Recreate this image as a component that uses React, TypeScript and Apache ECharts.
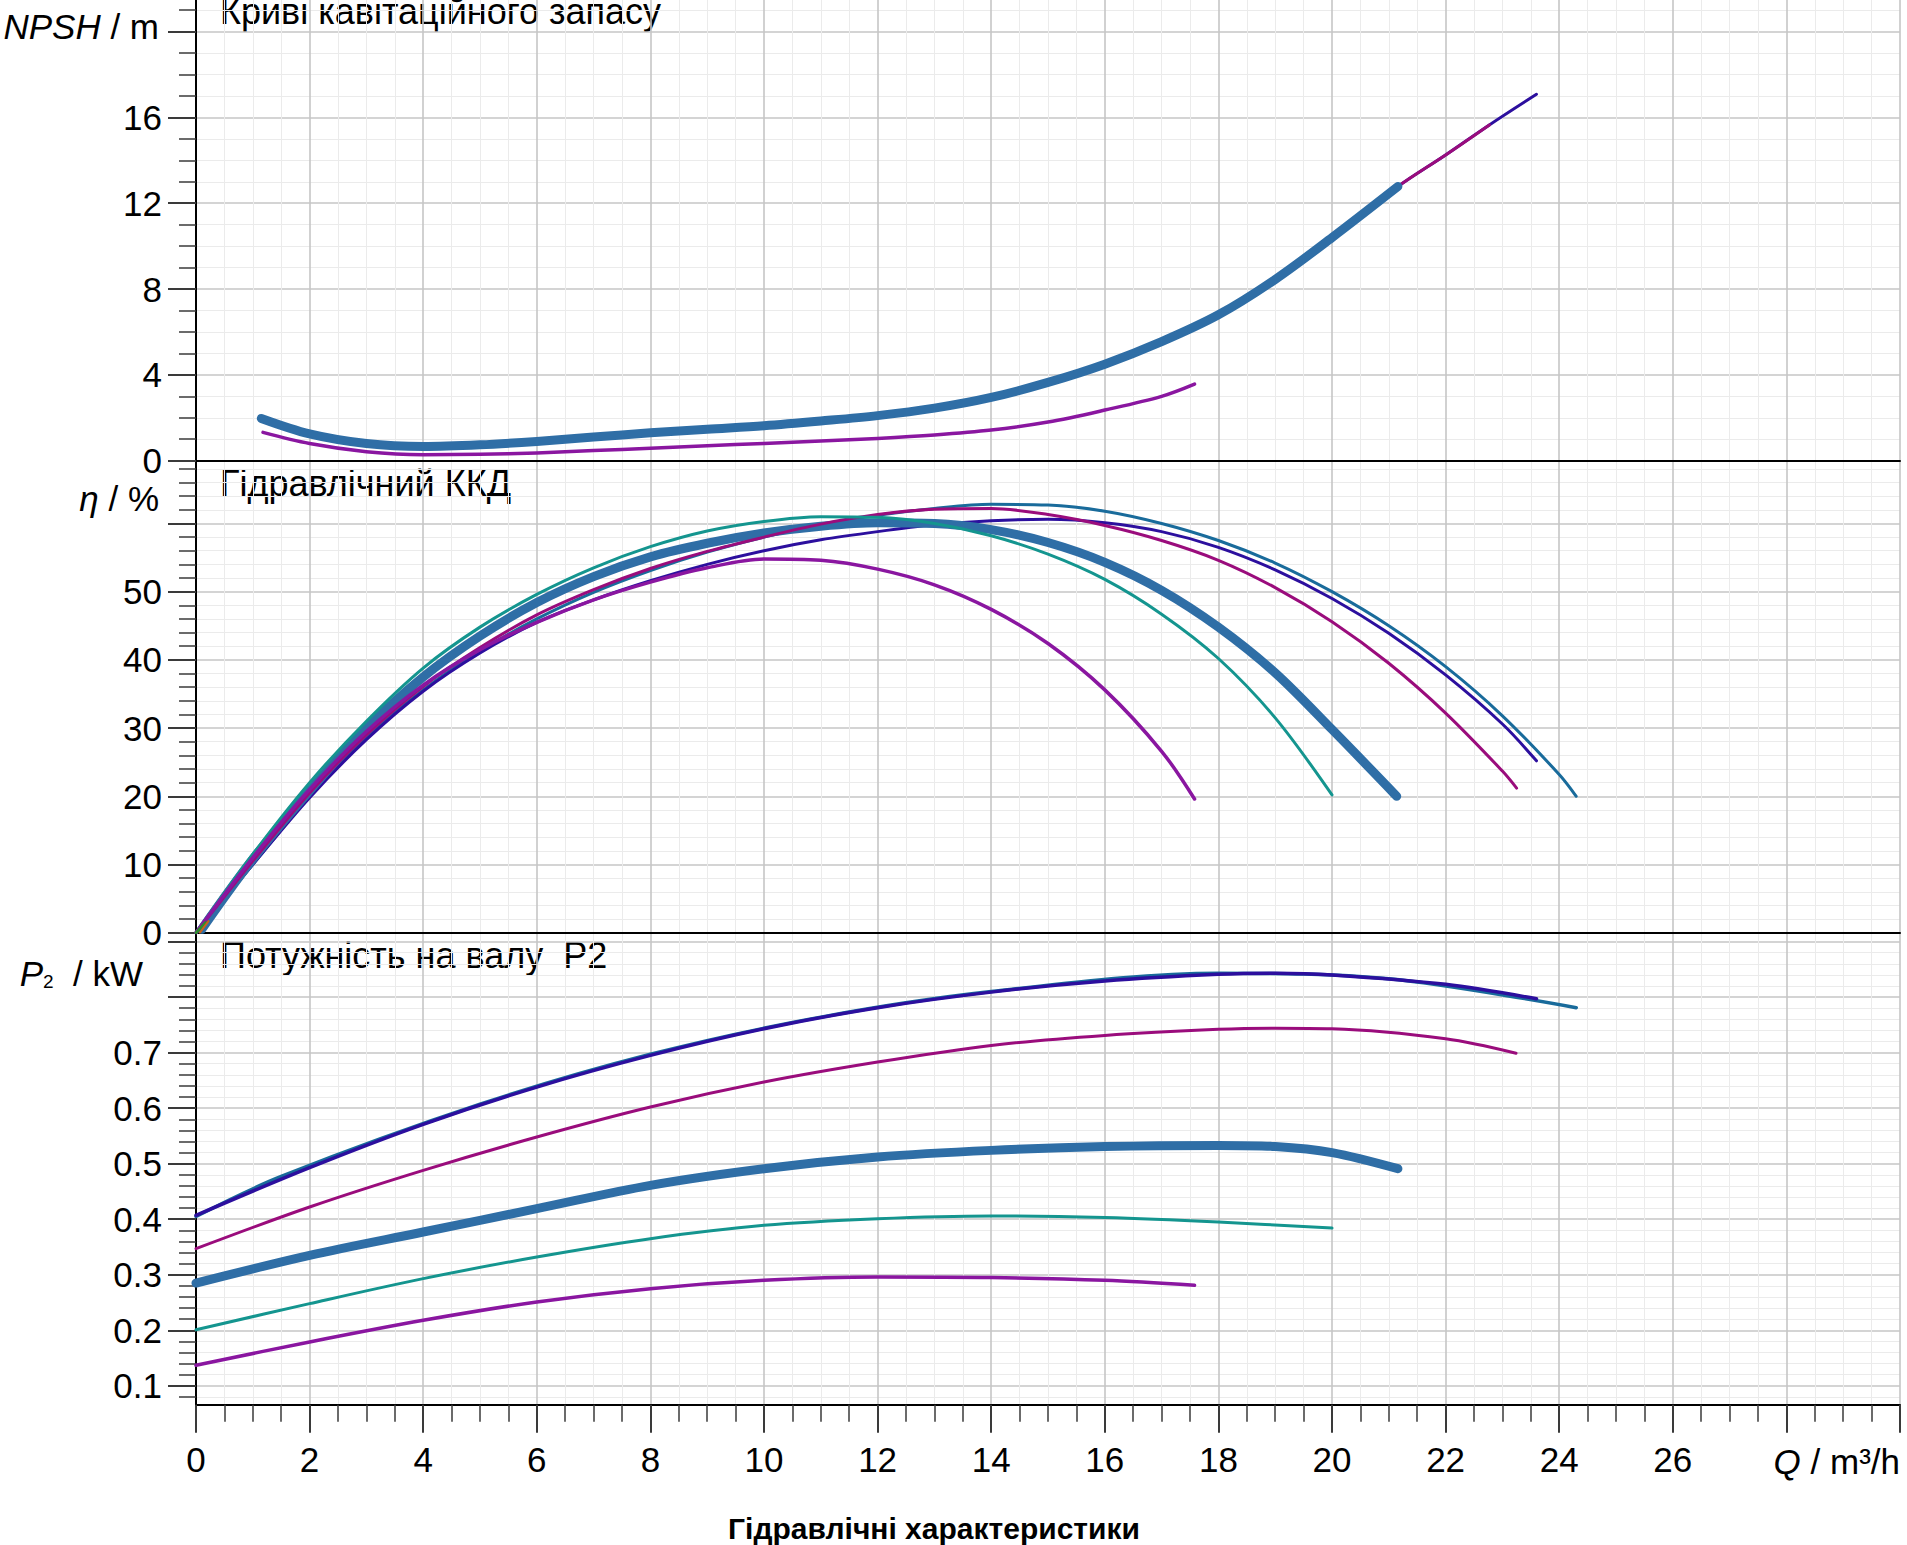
import React, { useEffect, useRef } from "react";
import * as echarts from "echarts";

const FONT = "'Liberation Sans', Arial, Helvetica, sans-serif";

// ---------- axes ----------
const Q_RANGE = [0, 30];
const NPSH_RANGE = [0, 22];
const ETA_RANGE = [0, 69.2];
const P2_RANGE = [0.066, 0.916];
const Q_HIDDEN_LABELS = [28, 30];
const NPSH_HIDDEN_LABELS = [20, 22];
const ETA_HIDDEN_LABELS = [60, 69.2];
const P2_TICKS = [0.1, 0.2, 0.3, 0.4, 0.5, 0.6, 0.7, 0.8, 0.9];
const P2_LABELS = [0.1, 0.2, 0.3, 0.4, 0.5, 0.6, 0.7];

// ---------- colours ----------
const C_THICK = "#2f6ea6";
const C_PURPLE = "#8a16a0";
const C_TEAL = "#14958f";
const C_MAGENTA = "#9a0c7c";
const C_INDIGO = "#2c0f9e";
const C_BLUE = "#196b9b";
const C_GREEN = "#2e8b2e";
const C_ORANGE = "#c8641c";

// ---------- NPSH ----------
const npshThickQ = [1.15, 2, 3, 4, 5, 6, 7, 8, 9, 10, 11, 12, 13, 14, 15, 16, 17, 18, 19, 20, 21.16];
const npshThick = [1.97, 1.25, 0.8, 0.66, 0.74, 0.9, 1.1, 1.3, 1.47, 1.63, 1.85, 2.1, 2.45, 2.95, 3.65, 4.5, 5.55, 6.8, 8.45, 10.4, 12.78];
const npshPurpleQ = [1.18, 2, 3, 4, 5, 6, 7, 8, 9, 10, 11, 12, 13, 14, 15, 16, 17, 17.58];
const npshPurple = [1.32, 0.8, 0.42, 0.28, 0.3, 0.36, 0.47, 0.58, 0.7, 0.8, 0.92, 1.04, 1.2, 1.43, 1.8, 2.36, 3.0, 3.57];
const npshMagentaQ = [19, 20, 21.16, 22, 22.77];
const npshMagenta = [8.45, 10.4, 12.78, 14.25, 15.65];
const npshIndigoQ = [20, 21.16, 22, 22.77, 23.6];
const npshIndigo = [10.4, 12.78, 14.25, 15.65, 17.08];

// ---------- hydraulic efficiency ----------
const etaPurpleQ = [0, 1, 2, 3, 4, 5, 6, 7, 8, 9, 10, 11, 12, 13, 14, 15, 16, 17, 17.58];
const etaPurple = [0, 11, 21, 29.5, 36.3, 41.5, 45.5, 48.8, 51.4, 53.5, 54.8, 54.6, 53.3, 51, 47.4, 42.4, 35.6, 26.6, 19.6];
const etaTealQ = [0, 1, 2, 3, 4, 5, 6, 7, 8, 9, 10, 11, 12, 13, 14, 15, 16, 17, 18, 19, 20];
const etaTeal = [0, 11.5, 22, 31, 38.8, 44.8, 49.6, 53.5, 56.6, 58.9, 60.3, 61, 60.9, 60, 58.2, 55.5, 51.8, 46.7, 40.2, 31.5, 20.2];
const etaThickQ = [0.1, 1, 2, 3, 4, 5, 6, 7, 8, 9, 10, 11, 12, 13, 14, 15, 16, 17, 18, 19, 20, 21.14];
const etaThick = [0.5, 10.8, 20.8, 30, 37.5, 43.5, 48.4, 52.2, 55.1, 57.1, 58.6, 59.6, 60.1, 60, 59.1, 57.2, 54.3, 50.2, 44.8, 38.1, 29.8, 20];
const etaMagentaQ = [0, 1, 2, 3, 4, 5, 6, 7, 8, 9, 10, 11, 12, 13, 14, 15, 16, 17, 18, 19, 20, 21, 22, 23, 23.25];
const etaMagenta = [0, 10.5, 20.5, 29, 36.1, 41.8, 46.6, 50.3, 53.4, 55.9, 58, 59.9, 61.3, 62.1, 62.2, 61.3, 59.7, 57.5, 54.6, 50.6, 45.6, 39.5, 32.2, 23.7, 21.2];
const etaIndigoQ = [0, 1, 2, 3, 4, 5, 6, 7, 8, 9, 10, 11, 12, 13, 14, 15, 16, 17, 18, 19, 20, 21, 22, 23, 23.6];
const etaIndigo = [0, 10, 19.8, 28.3, 35.4, 41, 45.5, 48.8, 51.6, 54, 56, 57.6, 58.8, 59.8, 60.4, 60.6, 60.1, 58.8, 56.5, 53.2, 49, 43.9, 37.8, 30.6, 25.2];
const etaBlueQ = [0, 1, 2, 3, 4, 5, 6, 7, 8, 9, 10, 11, 12, 13, 14, 15, 16, 17, 18, 19, 20, 21, 22, 23, 24, 24.3];
const etaBlue = [0, 10, 20, 28.6, 35.6, 41.3, 46, 49.9, 53.1, 55.8, 58, 59.8, 61.2, 62.2, 62.8, 62.7, 61.8, 60, 57.5, 54.2, 50, 45, 39, 31.8, 23.2, 20];
const etaGreenQ = [0, 0.17];
const etaGreen = [0, 1.5];
const etaOrangeQ = [0.07, 0.22];
const etaOrange = [0, 1.7];

// ---------- shaft power P2 ----------
const p2PurpleQ = [0, 2, 4, 6, 8, 10, 12, 14, 16, 17.58];
const p2Purple = [0.137, 0.179, 0.218, 0.251, 0.275, 0.29, 0.296, 0.295, 0.29, 0.281];
const p2TealQ = [0, 2, 4, 6, 8, 10, 12, 14, 16, 18, 20];
const p2Teal = [0.201, 0.248, 0.293, 0.332, 0.365, 0.389, 0.401, 0.406, 0.403, 0.395, 0.384];
const p2ThickQ = [0, 2, 4, 6, 8, 10, 12, 14, 16, 18, 19, 20, 21.16];
const p2Thick = [0.285, 0.335, 0.377, 0.419, 0.461, 0.491, 0.512, 0.524, 0.531, 0.533, 0.531, 0.52, 0.491];
const p2MagentaQ = [0, 2, 4, 6, 8, 10, 12, 14, 16, 18, 19, 20, 22, 23.24];
const p2Magenta = [0.347, 0.422, 0.488, 0.548, 0.602, 0.647, 0.683, 0.713, 0.731, 0.742, 0.744, 0.743, 0.725, 0.699];
const p2BlueQ = [0, 1.5, 5, 8, 11, 14, 18, 21, 24.3];
const p2Blue = [0.405, 0.477, 0.607, 0.697, 0.764, 0.81, 0.843, 0.833, 0.781];
const p2IndigoQ = [0, 2, 4, 6, 8, 10, 12, 14, 16, 18, 19, 20, 22, 23.6];
const p2Indigo = [0.407, 0.493, 0.571, 0.638, 0.695, 0.743, 0.781, 0.809, 0.829, 0.841, 0.843, 0.84, 0.823, 0.797];

// ---------- texts ----------
const TITLE_NPSH = "Криві кавітаційного запасу";
const TITLE_ETA = "Гідравлічний ККД";
const TITLE_P2 = "Потужність на валу  P2";
const TITLE_BOTTOM = "Гідравлічні характеристики";

// ---------- layout (pixels) ----------
const W = 1907;
const H = 1545;
const LEFT = 196;
const RIGHT = 7;
const PANEL_H = 472;
const TOP0 = -11.3;

const pairs = (q: number[], v: number[]) => q.map((x, i) => [x, v[i]]);

function line(name: string, q: number[], v: number[], color: string, width: number, axis: number, z: number) {
  return {
    name,
    type: "line",
    xAxisIndex: axis,
    yAxisIndex: axis,
    data: pairs(q, v),
    smooth: 0.33,
    showSymbol: false,
    symbol: "none",
    z,
    lineStyle: { color, width, cap: "round", join: "round" },
    emphasis: { disabled: true },
  };
}

const tickStyle = { color: "#3a3a3a", width: 2 };
const minorTickStyle = { color: "#3a3a3a", width: 1.5 };
const majorGrid = { color: "#c6c6c6", width: 1.6 };
const minorGrid = { color: "#ebebeb", width: 1 };
const axisLineStyle = { color: "#000", width: 2 };

function xAxis(index: number, withLabels: boolean) {
  return {
    type: "value",
    gridIndex: index,
    min: Q_RANGE[0],
    max: Q_RANGE[1],
    interval: 2,
    axisLine: { show: true, onZero: false, lineStyle: axisLineStyle },
    axisTick: { show: withLabels, length: 28, lineStyle: tickStyle },
    minorTick: { show: withLabels, splitNumber: 4, length: 17, lineStyle: minorTickStyle },
    splitLine: { show: true, lineStyle: majorGrid },
    minorSplitLine: { show: true, lineStyle: minorGrid },
    axisLabel: {
      show: withLabels,
      margin: 37,
      fontSize: 35,
      fontFamily: FONT,
      color: "#000",
      formatter: (v: number) => (Q_HIDDEN_LABELS.includes(v) ? "" : String(v)),
    },
  };
}

const yLabelBase = { margin: 34, fontSize: 35, fontFamily: FONT, color: "#000" };

function titleText(text: string, y: number) {
  return {
    type: "text",
    x: 220,
    y,
    style: { text, fontSize: 36, fontFamily: FONT, fill: "#000", verticalAlign: "middle" },
  };
}

function unitText(text: string, x: number, y: number, rich: any) {
  return {
    type: "text",
    x,
    y,
    style: {
      text,
      rich,
      fontSize: 35,
      fontFamily: FONT,
      fill: "#000",
      align: "right",
      verticalAlign: "middle",
    },
  };
}

const italicRich = { i: { fontStyle: "italic", fontSize: 35, fontFamily: FONT, fill: "#000" } };

export default function App() {
  const ref = useRef<HTMLDivElement>(null);

  useEffect(() => {
    if (!ref.current) return;
    const chart = echarts.init(ref.current, undefined, { renderer: "svg", width: W, height: H });

    const grids = [0, 1, 2].map((i) => ({
      left: LEFT,
      right: RIGHT,
      top: TOP0 + PANEL_H * i,
      height: PANEL_H,
      containLabel: false,
      outerBoundsMode: "none",
      show: false,
    }));

    const yCommon = {
      type: "value",
      axisLine: { show: true, onZero: false, lineStyle: axisLineStyle },
      axisTick: { show: true, length: 28, lineStyle: tickStyle },
      splitLine: { show: true, lineStyle: majorGrid },
      minorSplitLine: { show: true, lineStyle: minorGrid },
    };

    const option: any = {
      animation: false,
      backgroundColor: "#fff",
      grid: grids,
      xAxis: [xAxis(0, false), xAxis(1, false), xAxis(2, true)],
      yAxis: [
        {
          ...yCommon,
          gridIndex: 0,
          min: NPSH_RANGE[0],
          max: NPSH_RANGE[1],
          interval: 4,
          minorTick: { show: true, splitNumber: 4, length: 17, lineStyle: minorTickStyle },
          axisLabel: {
            ...yLabelBase,
            formatter: (v: number) => (NPSH_HIDDEN_LABELS.includes(v) ? "" : String(v)),
          },
        },
        {
          ...yCommon,
          gridIndex: 1,
          min: ETA_RANGE[0],
          max: ETA_RANGE[1],
          interval: 10,
          minorTick: { show: true, splitNumber: 5, length: 17, lineStyle: minorTickStyle },
          axisLabel: {
            ...yLabelBase,
            formatter: (v: number) => (ETA_HIDDEN_LABELS.includes(v) ? "" : String(v)),
          },
        },
        {
          ...yCommon,
          gridIndex: 2,
          min: P2_RANGE[0],
          max: P2_RANGE[1],
          minInterval: 0.1,
          maxInterval: 0.1,
          axisTick: { show: true, length: 28, lineStyle: tickStyle, customValues: P2_TICKS },
          minorTick: { show: true, splitNumber: 5, length: 17, lineStyle: minorTickStyle },
          axisLabel: {
            ...yLabelBase,
            customValues: P2_LABELS,
            formatter: (v: number) => (P2_LABELS.some((p) => Math.abs(p - v) < 1e-6) ? v.toFixed(1) : ""),
          },
        },
      ],
      series: [
        // NPSH
        line("npsh-indigo", npshIndigoQ, npshIndigo, C_INDIGO, 3, 0, 2),
        line("npsh-magenta", npshMagentaQ, npshMagenta, C_MAGENTA, 3, 0, 3),
        line("npsh-purple", npshPurpleQ, npshPurple, C_PURPLE, 3.5, 0, 4),
        line("npsh-thick", npshThickQ, npshThick, C_THICK, 9, 0, 5),
        // efficiency
        line("eta-blue", etaBlueQ, etaBlue, C_BLUE, 3, 1, 2),
        line("eta-indigo", etaIndigoQ, etaIndigo, C_INDIGO, 3, 1, 3),
        line("eta-thick", etaThickQ, etaThick, C_THICK, 9, 1, 4),
        line("eta-magenta", etaMagentaQ, etaMagenta, C_MAGENTA, 3, 1, 5),
        line("eta-teal", etaTealQ, etaTeal, C_TEAL, 3, 1, 6),
        line("eta-purple", etaPurpleQ, etaPurple, C_PURPLE, 3.5, 1, 7),
        line("eta-green", etaGreenQ, etaGreen, C_GREEN, 3, 1, 8),
        line("eta-orange", etaOrangeQ, etaOrange, C_ORANGE, 2, 1, 8),
        // P2
        line("p2-blue", p2BlueQ, p2Blue, C_BLUE, 3.5, 2, 2),
        line("p2-indigo", p2IndigoQ, p2Indigo, C_INDIGO, 3.5, 2, 3),
        line("p2-magenta", p2MagentaQ, p2Magenta, C_MAGENTA, 3, 2, 4),
        line("p2-thick", p2ThickQ, p2Thick, C_THICK, 9, 2, 5),
        line("p2-teal", p2TealQ, p2Teal, C_TEAL, 3, 2, 6),
        line("p2-purple", p2PurpleQ, p2Purple, C_PURPLE, 3.5, 2, 7),
      ],
      graphic: [
        titleText(TITLE_NPSH, TOP0 + 22.5),
        titleText(TITLE_ETA, TOP0 + PANEL_H + 22.5),
        titleText(TITLE_P2, TOP0 + PANEL_H * 2 + 22.5),
        unitText("{i|NPSH} / m", 159, 26, italicRich),
        unitText("{i|η} / %", 159, 498, italicRich),
        unitText("{i|P}{s|2}  / kW", 143, 973, {
          ...italicRich,
          s: { fontSize: 19, fontFamily: FONT, fill: "#000", verticalAlign: "bottom" },
        }),
        unitText("{i|Q} / m³/h", 1900, 1461, italicRich),
        {
          type: "text",
          x: 934,
          y: 1528,
          style: {
            text: TITLE_BOTTOM,
            fontSize: 30,
            fontWeight: "bold",
            fontFamily: FONT,
            fill: "#000",
            align: "center",
            verticalAlign: "middle",
          },
        },
      ],
    };

    chart.setOption(option);
    return () => chart.dispose();
  }, []);

  return (
    <div
      ref={ref}
      style={{ position: "absolute", left: 0, top: 0, width: W, height: H, background: "#fff" }}
    />
  );
}
